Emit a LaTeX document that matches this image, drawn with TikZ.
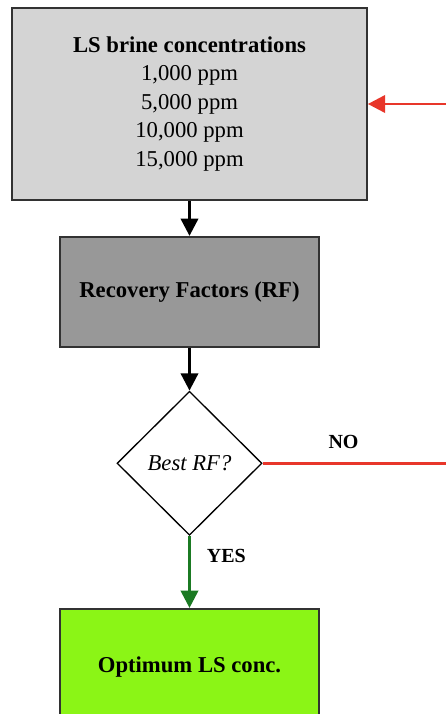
\documentclass[tikz,border=0pt]{standalone}
\usepackage{fontspec}
\setmainfont{Liberation Serif}
\usepackage{tikz}
\usetikzlibrary{positioning,arrows.meta,shapes.geometric}
\definecolor{boxlight}{RGB}{212,212,212}
\definecolor{boxdark}{RGB}{152,152,152}
\definecolor{boxlime}{RGB}{139,245,22}
\definecolor{edgegray}{RGB}{50,50,50}
\definecolor{loopred}{RGB}{232,54,42}
\definecolor{yesgreen}{RGB}{27,122,35}
\tikzset{
  box/.style    = {draw=edgegray, line width=1.3pt, align=center, inner sep=0pt, font=\fontsize{17}{21.4}\selectfont},
  decide/.style = {diamond, draw=black, line width=1pt, inner sep=0pt, minimum width=108.75pt, minimum height=108pt, font=\fontsize{17}{21}\selectfont\itshape},
  flow/.style   = {-{Triangle[length=13pt, width=13pt]}, line width=2.2pt},
  tag/.style    = {inner sep=0pt, text=black, font=\fontsize{15}{18}\selectfont\bfseries},
}
\begin{document}
\begin{tikzpicture}[x=0.75pt, y=-0.75pt]
  \path[use as bounding box, fill=white] (0,0) rectangle (446,714);
  \clip (0,0) rectangle (446,714);
  \node[box, fill=boxlight, minimum width=266.25pt, minimum height=144pt] (conc) at (189.5,104)
    {\textbf{LS brine concentrations}\\1,000 ppm\\5,000 ppm\\10,000 ppm\\15,000 ppm};
  \node[box, fill=boxdark, minimum width=194.25pt, minimum height=82.5pt, below=26.25pt of conc] (rf) {\textbf{Recovery Factors (RF)}};
  \node[decide, below=32.25pt of rf] (best) {Best RF?};
  \node[box, fill=boxlime, minimum width=194.25pt, minimum height=87pt, below=54pt of best] (opt) {\textbf{Optimum LS conc.}};
  \coordinate (turn) at (470,0);
  \draw[flow] (conc.south) -- (rf.north);
  \draw[flow] (rf.south) -- (best.north);
  \draw[flow, yesgreen] (best.south) -- node[tag, pos=0.28, right=12pt] {YES} (opt.north);
  \draw[flow, loopred] (best.east) -- node[tag, pos=0.39, above=10pt] {NO} (best.east -| turn) |- (conc.east);
\end{tikzpicture}
\end{document}
